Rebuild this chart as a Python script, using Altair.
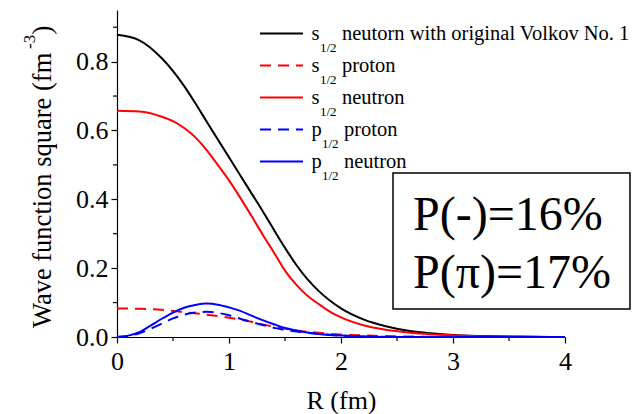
import altair as alt
import pandas as pd

FONT = "Liberation Serif"

# ---- data ----
R_black = [0.0, 0.2, 0.4, 0.6, 0.7, 0.8, 0.9, 1.0, 1.1, 1.2, 1.3, 1.4, 1.5, 1.6, 1.7, 1.8, 1.9, 2.0, 2.2, 2.4, 2.6, 2.8, 3.0, 3.25, 3.5, 3.75, 4.0]
V_black = [0.878, 0.862, 0.81, 0.729, 0.679, 0.626, 0.574, 0.522, 0.470, 0.418, 0.366, 0.312, 0.259, 0.21, 0.168, 0.134, 0.106, 0.083, 0.051, 0.031, 0.018, 0.011, 0.006, 0.003, 0.0015, 0.0005, 0.0]

R_s_neutron = [0.0, 0.2, 0.4, 0.5, 0.6, 0.7, 0.8, 0.9, 1.0, 1.1, 1.2, 1.3, 1.4, 1.5, 1.6, 1.7, 1.8, 1.9, 2.0, 2.2, 2.4, 2.6, 2.8, 3.0, 3.25, 3.5, 4.0]
V_s_neutron = [0.657, 0.655, 0.64, 0.627, 0.607, 0.58, 0.543, 0.50, 0.455, 0.405, 0.352, 0.298, 0.246, 0.193, 0.152, 0.12, 0.096, 0.074, 0.057, 0.034, 0.021, 0.013, 0.008, 0.005, 0.002, 0.001, 0.0]

R_s_proton = [0.0, 0.2, 0.4, 0.6, 0.8, 1.0, 1.2, 1.4, 1.6, 1.8, 2.0, 2.25, 2.5, 3.0, 4.0]
V_s_proton = [0.083, 0.082, 0.079, 0.072, 0.065, 0.056, 0.044, 0.030, 0.019, 0.012, 0.007, 0.004, 0.002, 0.0005, 0.0]

R_p_neutron = [0.0, 0.1, 0.2, 0.3, 0.4, 0.5, 0.6, 0.7, 0.8, 0.9, 1.0, 1.1, 1.2, 1.3, 1.4, 1.5, 1.6, 1.7, 1.8, 2.0, 2.25, 2.5, 4.0]
V_p_neutron = [0.0, 0.004, 0.014, 0.033, 0.053, 0.071, 0.085, 0.093, 0.097, 0.094, 0.086, 0.076, 0.062, 0.049, 0.037, 0.026, 0.019, 0.013, 0.009, 0.004, 0.001, 0.0, 0.0]

R_p_proton = [0.0, 0.1, 0.2, 0.3, 0.4, 0.5, 0.6, 0.7, 0.8, 0.9, 1.0, 1.1, 1.2, 1.3, 1.4, 1.5, 1.6, 1.7, 1.8, 2.0, 2.25, 2.5, 4.0]
V_p_proton = [0.0, 0.003, 0.011, 0.024, 0.039, 0.054, 0.065, 0.071, 0.073, 0.070, 0.063, 0.053, 0.044, 0.035, 0.027, 0.020, 0.016, 0.012, 0.009, 0.004, 0.001, 0.0, 0.0]

x_ticks = [0, 1, 2, 3, 4]
x_minor = [0.5, 1.5, 2.5, 3.5]
y_ticks = [0.0, 0.2, 0.4, 0.6, 0.8]
y_minor = [0.1, 0.3, 0.5, 0.7, 0.9]

legend_letters = ["s", "s", "s", "p", "p"]
legend_texts = ["neutorn with original Volkov No. 1", "proton", "neutron", "proton", "neutron"]
box_lines = ["P(-)=16%", "P(\u03c0)=17%"]
x_title = "R (fm)"
y_title_main = "Wave function square (fm"
y_title_sup = "-3"

# draw order: black, red solid, red dashed, blue dashed, blue solid
series = [
    ("black", R_black, V_black, "#000000", None),
    ("s_neutron", R_s_neutron, V_s_neutron, "#ff0000", None),
    ("s_proton", R_s_proton, V_s_proton, "#ff0000", [11, 7]),
    ("p_proton", R_p_proton, V_p_proton, "#0000ff", [11, 7]),
    ("p_neutron", R_p_neutron, V_p_neutron, "#0000ff", None),
]

W, H = 448, 327
xs = alt.Scale(domain=[0, 4], nice=False, zero=False)
ys = alt.Scale(domain=[0, 0.95], nice=False, zero=False)

axis_common = dict(
    grid=False, labelFont=FONT, labelFontSize=26, labelColor="black",
    domainColor="black", tickColor="black", domainWidth=1.2, tickWidth=1.2,
    tickSize=6, labelFlush=False, labelOverlap=False,
)
x_axis = alt.Axis(values=x_ticks, format="d", title=x_title, titleFont=FONT, titleFontSize=26,
                  titleFontWeight="normal", titleColor="black", titleBaseline="alphabetic",
                  titleY=71, labelPadding=5, **axis_common)
y_axis = alt.Axis(values=y_ticks, format=".1f", title=None, labelPadding=3, **axis_common)

X = alt.X("R:Q", scale=xs, axis=x_axis)
Y = alt.Y("v:Q", scale=ys, axis=y_axis)

layers = []
for name, rs, vs, col, dash in series:
    d = pd.DataFrame({"R": rs, "v": vs})
    mk = dict(color=col, strokeWidth=2, interpolate="monotone")
    if dash:
        mk["strokeDash"] = dash
    layers.append(alt.Chart(d).mark_line(**mk).encode(x=X, y=Y))

# minor ticks
layers.append(
    alt.Chart(pd.DataFrame({"R": x_minor})).mark_rule(color="black", strokeWidth=1.2).encode(
        x=X, y=alt.value(H), y2=alt.value(H + 4))
)
layers.append(
    alt.Chart(pd.DataFrame({"v": y_minor})).mark_rule(color="black", strokeWidth=1.2).encode(
        y=Y, x=alt.value(0), x2=alt.value(-4))
)


def txt(s, x, y, size, angle=0, align="left"):
    kw = dict(align=align, baseline="alphabetic", font=FONT, fontSize=size, color="black")
    if angle:
        kw["angle"] = angle
    return alt.Chart(pd.DataFrame({"t": [s]})).mark_text(**kw).encode(
        x=alt.value(x), y=alt.value(y), text="t:N")


# legend (manual, with subscripts)
legend_order = [0, 2, 1, 3, 4]
for i in range(5):
    name, rs, vs, col, dash = series[legend_order[i]]
    yrow = 23.5 + 32 * i
    mk = dict(color=col, strokeWidth=2)
    if dash:
        mk["strokeDash"] = dash
    layers.append(
        alt.Chart(pd.DataFrame({"a": [0]})).mark_rule(**mk).encode(
            x=alt.value(143), x2=alt.value(186), y=alt.value(yrow))
    )
    letter = legend_letters[i]
    sub_x = 203 if letter == "s" else 205
    rest_x = 225 if letter == "s" else 227
    layers.append(txt(letter, 194.5, yrow + 6.7, 20.5))
    layers.append(txt("1/2", sub_x, yrow + 18.4, 13))
    layers.append(txt(legend_texts[i], rest_x, yrow + 6.7, 20.5))

# box
layers.append(
    alt.Chart(pd.DataFrame({"a": [0]})).mark_rect(fill="white", stroke="black", strokeWidth=1.5).encode(
        x=alt.value(276), x2=alt.value(513), y=alt.value(163), y2=alt.value(299))
)
layers.append(txt(box_lines[0], 296, 220, 48))
layers.append(txt(box_lines[1], 296, 278, 48))

# y title (manual, with superscript)
layers.append(txt(y_title_main, -66, 318, 26.5, angle=270))
layers.append(txt(y_title_sup, -82, 39, 17, angle=270))
layers.append(txt(")", -66, 24.5, 26.5, angle=270))

chart = alt.layer(*layers).properties(
    width=W, height=H,
    autosize=alt.AutoSizeParams(type="none"),
    padding={"left": 117, "top": 10, "right": 71, "bottom": 77},
    background="white",
).configure_view(stroke=None)

chart.save("out.html", embed_options={"renderer": "svg", "actions": False})
